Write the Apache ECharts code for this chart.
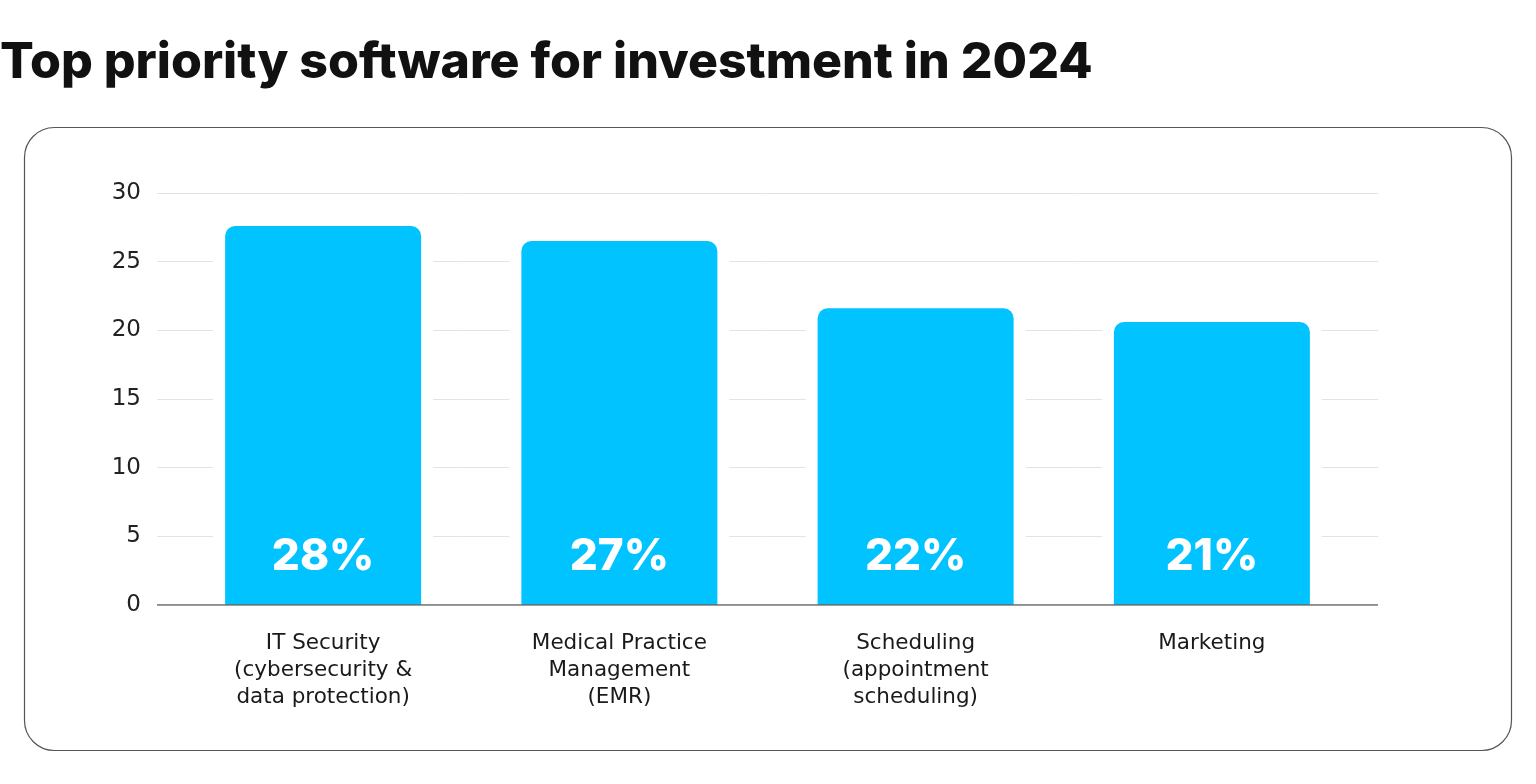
<!DOCTYPE html>
<html>
<head>
<meta charset="utf-8">
<script src="https://cdn.jsdelivr.net/npm/echarts@6/dist/echarts.min.js"></script>
<style>
html,body{margin:0;padding:0;background:#fff;}
#c{width:1536px;height:784px;}
</style>
</head>
<body>
<div id="c"></div>
<script>
const titleText = 'Top priority software for investment in 2024';
const categories = [
  'IT Security\n(cybersecurity &\ndata protection)',
  'Medical Practice\nManagement\n(EMR)',
  'Scheduling\n(appointment\nscheduling)',
  'Marketing'
];
const values = [27.6, 26.5, 21.6, 20.6];
const yTicks = { min: 0, max: 30, interval: 5 };

const chart = echarts.init(document.getElementById('c'), null, { renderer: 'canvas' });
const FONT = 'DejaVu Sans';

const option = {
  backgroundColor: '#ffffff',
  animation: false,
  title: {
    text: titleText,
    left: -5,
    top: 33,
    textStyle: { fontFamily: 'Inter', fontWeight: 800, fontSize: 50, color: '#111111' }
  },
  graphic: [{
    type: 'rect',
    shape: { x: 24.5, y: 127.5, width: 1487, height: 623, r: 30 },
    style: { fill: 'none', stroke: '#555555', lineWidth: 1.2 },
    z: -10
  }],
  grid: [
    { left: 157, right: 158, top: 193, bottom: 179 },
    { left: 175, right: 176, top: 193, bottom: 179 }
  ],
  xAxis: [
    { gridIndex: 0, type: 'value', min: 0, max: 1, show: true,
      axisLine: { show: false }, axisTick: { show: false }, axisLabel: { show: false }, splitLine: { show: false } },
    { gridIndex: 1, type: 'category', data: categories,
      axisLine: { show: false }, axisTick: { show: false },
      axisLabel: { margin: 25, fontFamily: FONT, fontSize: 21.5, color: '#1a1a1a', lineHeight: 27, interval: 0 } },
    { gridIndex: 1, type: 'category', data: categories, show: false }
  ],
  yAxis: [
    { gridIndex: 0, type: 'value', min: yTicks.min, max: yTicks.max, interval: yTicks.interval,
      axisLine: { show: false }, axisTick: { show: false },
      axisLabel: { margin: 16, fontFamily: FONT, fontSize: 23, color: '#222222', padding: [10, 0, 0, 0] },
      splitLine: { lineStyle: { color: '#e3e3e3', width: 1 } } },
    { gridIndex: 1, type: 'value', min: yTicks.min, max: yTicks.max, interval: yTicks.interval, show: false,
      splitLine: { show: false } },
    { gridIndex: 0, type: 'value', min: yTicks.min, max: yTicks.max, show: false }
  ],
  series: [
    {
      type: 'bar', xAxisIndex: 2, yAxisIndex: 1, data: values, barWidth: 220,
      itemStyle: { color: '#ffffff', borderRadius: [12, 12, 0, 0] }, z: 2, silent: true
    },
    {
      type: 'bar', xAxisIndex: 1, yAxisIndex: 1, data: values, barWidth: 196,
      itemStyle: { color: '#00C3FF', borderRadius: [10, 10, 0, 0] }, z: 3,
      label: {
        show: true, position: 'insideBottom', distance: 26,
        formatter: p => Math.round(p.value) + '%',
        fontFamily: 'Inter', fontWeight: 800, fontSize: 44, color: '#ffffff'
      }
    },
    {
      type: 'line', xAxisIndex: 0, yAxisIndex: 2, data: [[0, 0], [1, 0]],
      symbol: 'none', lineStyle: { color: '#666666', width: 1.5 }, z: 5, silent: true
    }
  ]
};
chart.setOption(option);
</script>
</body>
</html>
